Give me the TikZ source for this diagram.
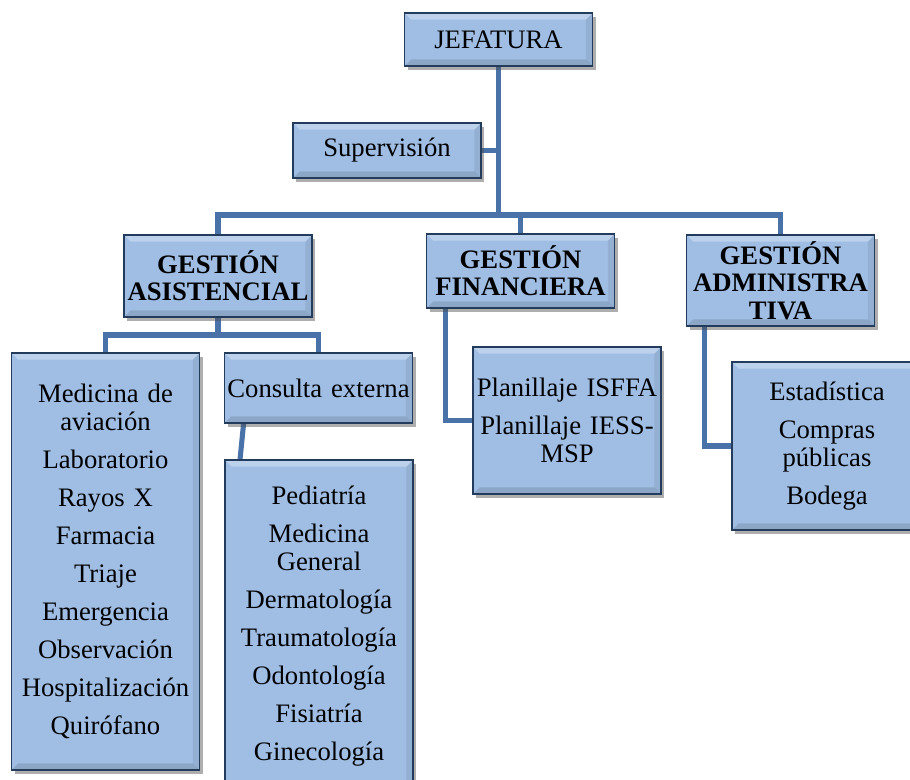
\documentclass[tikz,border=0pt]{standalone}
\usepackage{fontspec}
\setmainfont{Liberation Serif}
\usepackage{tikz}
\usetikzlibrary{shadows, backgrounds}

\definecolor{boxfill}{RGB}{160,190,228}
\definecolor{boxline}{RGB}{35,60,92}
\definecolor{linkblue}{RGB}{72,114,168}

\tikzset{
    unit/.style={draw=boxline, line width=1.4pt, fill=boxfill,
        drop shadow={shadow xshift=2.5pt, shadow yshift=-3pt, opacity=0.45, fill=black!70},
        minimum width=141pt, text width=137pt, inner xsep=2pt, align=center,
        font=\fontsize{20}{20.5}\selectfont,
        path picture={
            \fill[white, opacity=0.3] (path picture bounding box.north west)
                -- (path picture bounding box.north east)
                -- ([xshift=-5pt, yshift=-5pt]path picture bounding box.north east)
                -- ([xshift=5pt, yshift=-5pt]path picture bounding box.north west) -- cycle;
            \fill[black, opacity=0.12] (path picture bounding box.south west)
                -- (path picture bounding box.south east)
                -- ([xshift=-5pt, yshift=5pt]path picture bounding box.south east)
                -- ([xshift=5pt, yshift=5pt]path picture bounding box.south west) -- cycle;
            \fill[black, opacity=0.08] (path picture bounding box.north east)
                -- (path picture bounding box.south east)
                -- ([xshift=-5pt, yshift=5pt]path picture bounding box.south east)
                -- ([xshift=-5pt, yshift=-5pt]path picture bounding box.north east) -- cycle;
        }},
    head/.style={unit, font=\fontsize{20}{20.5}\selectfont\bfseries},
    conn/.style={draw=linkblue, line width=3.8pt, line join=miter}
}

\begin{document}
\begin{tikzpicture}[x=0.75pt, y=-0.75pt]
    \useasboundingbox (0,0) rectangle (910,780);

    % top levels
    \node[unit, minimum height=39.75pt] (jef) at (498.5,39.5) {JEFATURA};
    \node[unit, minimum height=41.25pt] (sup) at (387,150.5) {Supervisión};

    % gestiones
    \node[head, minimum height=61.5pt] (asis) at (218,276) {GESTIÓN\\ASISTENCIAL};
    \node[head, minimum height=55.5pt] (fin) at (520.5,271) {GESTIÓN\\FINANCIERA};
    \node[head, minimum height=68.25pt] (adm) at (780.5,280.5) {GESTIÓN\\ADMINISTRA\\TIVA};

    % areas
    \node[unit, minimum height=110.25pt] (plan) at (567,420.5)
        {Planillaje ISFFA\\[8pt]Planillaje IESS-\\MSP};
    \node[unit, minimum height=126pt, minimum width=142.5pt] (est) at (827,446)
        {Estadística\\[8pt]Compras\\públicas\\[8pt]Bodega};
    \node[unit, minimum height=312.75pt] (med) at (105.5,561.5)
        {Medicina de\\aviación\\[8pt]Laboratorio\\[8pt]Rayos X\\[8pt]Farmacia\\[8pt]Triaje\\[8pt]Emergencia\\[8pt]Observación\\[8pt]Hospitalización\\[8pt]Quirófano};
    \node[unit, minimum height=52.5pt] (cons) at (318.5,388) {Consulta externa};
    \node[unit, minimum height=249pt] (esp) at (319,626)
        {Pediatría\\[8pt]Medicina\\General\\[8pt]Dermatología\\[8pt]Traumatología\\[8pt]Odontología\\[8pt]Fisiatría\\[8pt]Ginecología};

    \coordinate (split) at (498.5,215);
    \coordinate (asissplit) at (218,335);

    % connectors
    \begin{scope}[on background layer]
        \draw[conn] (jef.south) -- (split);
        \draw[conn] (sup.east) -- (sup.east -| jef.south);
        \draw[conn] (asis.north) |- (split) -| (adm.north);
        \draw[conn] (fin.north) -- (fin.north |- split);
        \draw[conn] (asis.south) -- (asissplit);
        \draw[conn] (med.north) |- (asissplit) -| (cons.north);
        \draw[conn] ([xshift=15pt]cons.south west) -- ([xshift=12pt]esp.north west);
        \draw[conn] ([xshift=15pt]fin.south west) |- (plan.west);
        \draw[conn] ([xshift=14pt]adm.south west) |- (est.west);
    \end{scope}
\end{tikzpicture}
\end{document}
